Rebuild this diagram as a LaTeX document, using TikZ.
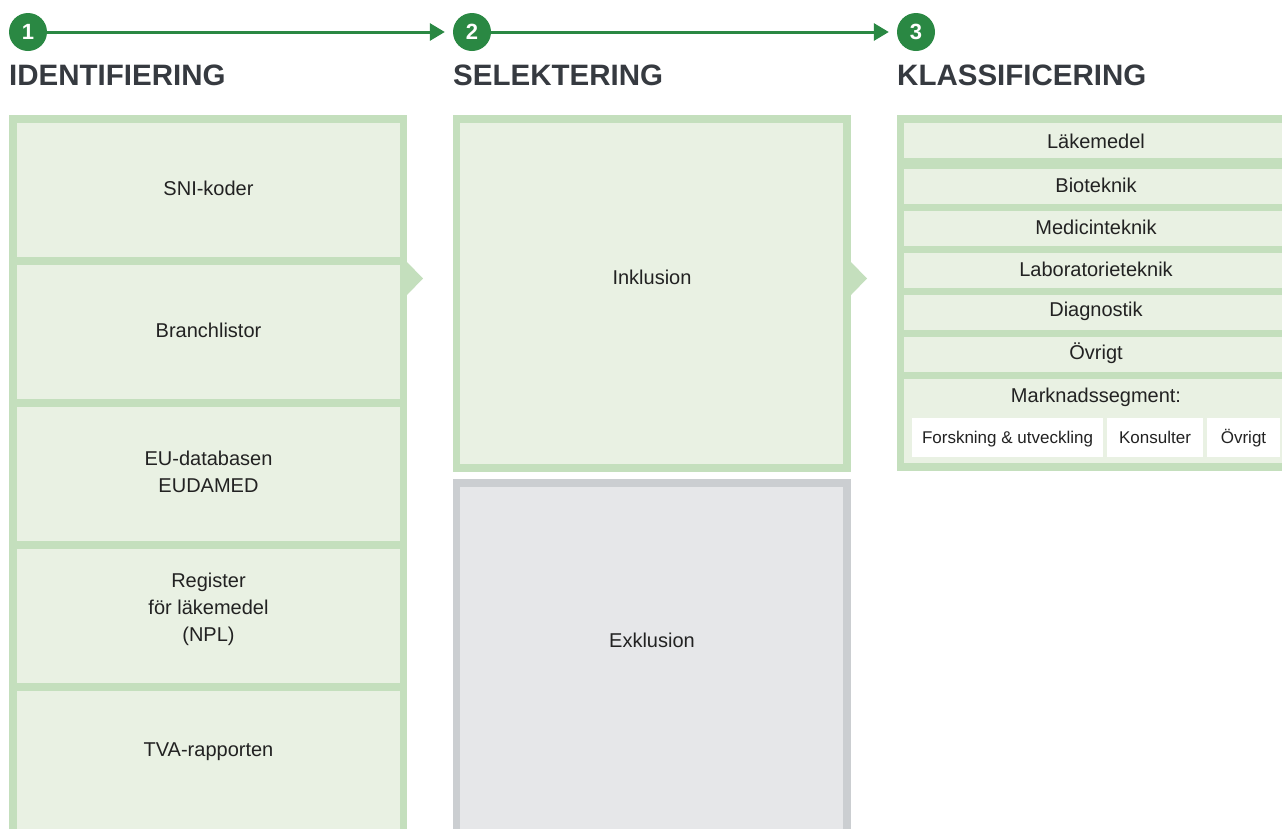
\documentclass[tikz,border=0pt]{standalone}
\usepackage{fontspec}
\setmainfont{Liberation Sans}
\usetikzlibrary{arrows.meta}
\definecolor{gborder}{HTML}{C4DFBD}
\definecolor{gfill}{HTML}{E9F1E3}
\definecolor{grborder}{HTML}{CBCED1}
\definecolor{grfill}{HTML}{E6E7E9}
\definecolor{dgreen}{HTML}{2A8843}
\definecolor{titlec}{HTML}{363A40}
\definecolor{textc}{HTML}{222222}
\begin{document}
\begin{tikzpicture}[x=1pt,y=-1pt,
 lbl/.style={text=textc,font=\fontsize{20}{27}\selectfont,align=center,inner sep=0},
 small/.style={text=textc,font=\fontsize{17}{20}\selectfont,inner sep=0,anchor=base},
 ttl/.style={text=titlec,font=\fontsize{29.5}{29.5}\selectfont\bfseries,anchor=base west,inner sep=0},
 num/.style={circle,fill=dgreen,minimum size=38pt,inner sep=0,text=white,font=\fontsize{22}{22}\selectfont\bfseries},
 flow/.style={draw=dgreen,line width=3pt,-{Triangle[length=15pt,width=17pt]}}]
\useasboundingbox (0,0) rectangle (1282,828);
\clip (0,0) rectangle (1282,828);
% header
\node[num] (c1) at (28,32) {1};
\node[num] (c2) at (472,32) {2};
\node[num] (c3) at (916,32) {3};
\draw[flow,shorten >=8pt] (c1) -- (c2);
\draw[flow,shorten >=8pt] (c2) -- (c3);
\node[ttl] (t1) at (9,85) {IDENTIFIERING};
\node[ttl] (t2) at (453,85) {SELEKTERING};
\node[ttl] (t3) at (897,85) {KLASSIFICERING};
% column 1
\fill[gborder] (9,115) rectangle (407,840);
\foreach \t in {123,265,407,549}{
  \fill[gfill] (17,\t) rectangle (400,\t+134);
}
\fill[gfill] (17,691) rectangle (400,840);
\fill[gborder] (407,262) -- (423,278.5) -- (407,295) -- cycle;
\node[lbl] (sni) at (208.5,188) {SNI-koder};
\node[lbl] (bra) at (208.5,330) {Branchlistor};
\node[lbl] (eu) at (208.5,472) {EU-databasen\\EUDAMED};
\node[lbl] (reg) at (208.5,609) {Register\\för läkemedel\\(NPL)};
\node[lbl] (tva) at (208.5,752) {TVA-rapporten};
% column 2
\fill[gborder] (453,115) rectangle (851,472);
\fill[gfill] (460,123) rectangle (843,464);
\fill[grborder] (453,479) rectangle (851,840);
\fill[grfill] (460,487) rectangle (843,840);
\fill[gborder] (851,262) -- (867,278.5) -- (851,295) -- cycle;
\node[lbl] (ink) at (652,277) {Inklusion};
\node[lbl] (exk) at (652,640) {Exklusion};
% column 3
\fill[gborder] (897,115) rectangle (1295,471);
\foreach \t in {123,169,211,253,295,337}{
  \fill[gfill] (904,\t) rectangle (1288,\t+35);
}
\fill[gfill] (904,379) rectangle (1288,463);
\fill[white] (912,418) rectangle (1103,457);
\fill[white] (1107,418) rectangle (1203,457);
\fill[white] (1207,418) rectangle (1280,457);
\node[lbl] (lak) at (1096,141) {Läkemedel};
\node[lbl] (bio) at (1096,185) {Bioteknik};
\node[lbl] (med) at (1096,227) {Medicinteknik};
\node[lbl] (lab) at (1096,269) {Laboratorieteknik};
\node[lbl] (dia) at (1096,311) {Diagnostik};
\node[lbl] (ovr) at (1096,353) {Övrigt};
\node[lbl] (mar) at (1096,397) {Marknadssegment:};
\node[small] (fou) at (1007.5,443) {Forskning \& utveckling};
\node[small] (kon) at (1155,443) {Konsulter};
\node[small] (ov2) at (1243.5,443) {Övrigt};
\end{tikzpicture}
\end{document}
